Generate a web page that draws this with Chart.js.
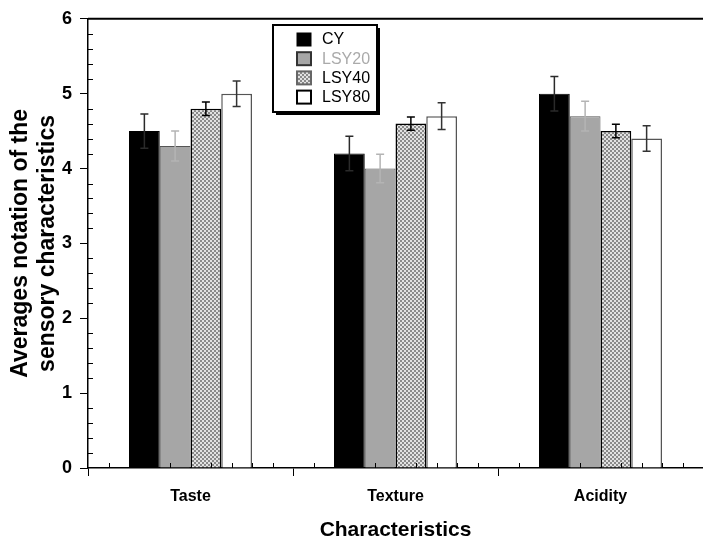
<!DOCTYPE html>
<html>
<head>
<meta charset="utf-8">
<script src="https://cdn.jsdelivr.net/npm/chart.js@4.4.1/dist/chart.umd.min.js"></script>
<style>
    body { margin: 0; background: #ffffff; }
</style>
</head>
<body>
<canvas id="chart" width="703" height="543"></canvas>
<script>
// Categories and series
const categories = ["Taste", "Texture", "Acidity"];
const seriesNames = ["CY", "LSY20", "LSY40", "LSY80"];

// Mean values
const cyValues = [4.5, 4.2, 5.0];
const lsy20Values = [4.3, 4.0, 4.7];
const lsy40Values = [4.8, 4.6, 4.5];
const lsy80Values = [5.0, 4.7, 4.4];

// Error bar half lengths
const cyErrors = [0.23, 0.23, 0.23];
const lsy20Errors = [0.2, 0.19, 0.2];
const lsy40Errors = [0.09, 0.09, 0.09];
const lsy80Errors = [0.17, 0.18, 0.17];

// Y axis ticks
const yMin = 0;
const yMax = 6;
const yStep = 1;
const yMinorStep = 0.2;
const xMinorPerCategory = 10;

const FONT = "'Liberation Sans', Arial, sans-serif";

// Checkered fill used for LSY40
function makeChecker() {
    const c = document.createElement("canvas");
    c.width = 4;
    c.height = 4;
    const g = c.getContext("2d");
    g.fillStyle = "#e2e2e2";
    g.fillRect(0, 0, 4, 4);
    g.fillStyle = "#8a8a8a";
    g.fillRect(0, 0, 2, 2);
    g.fillRect(2, 2, 2, 2);
    return g.createPattern(c, "repeat");
}
const checker = makeChecker();

const datasets = [
    { label: seriesNames[0], data: cyValues, errors: cyErrors, backgroundColor: "#000000", borderColor: "#000000", borderWidth: 1, errColor: "#2a2a2a", legendText: "#000000", legendBorder: "#000000" },
    { label: seriesNames[1], data: lsy20Values, errors: lsy20Errors, backgroundColor: "#a6a6a6", borderColor: "#555555", borderWidth: 1, errColor: "#b4b4b4", legendText: "#aaaaaa", legendBorder: "#333333" },
    { label: seriesNames[2], data: lsy40Values, errors: lsy40Errors, backgroundColor: checker, borderColor: "#000000", borderWidth: 1.5, errColor: "#000000", legendText: "#000000", legendBorder: "#666666" },
    { label: seriesNames[3], data: lsy80Values, errors: lsy80Errors, backgroundColor: "#ffffff", borderColor: "#555555", borderWidth: 1.5, errColor: "#333333", legendText: "#000000", legendBorder: "#000000" },
];

// Error bars, minor ticks, top frame line and the boxed legend
const extras = {
    id: "extras",
    afterDatasetsDraw(chart) {
        const ctx = chart.ctx;
        const y = chart.scales.y;
        ctx.save();
        chart.data.datasets.forEach((ds, i) => {
            const meta = chart.getDatasetMeta(i);
            ctx.strokeStyle = ds.errColor;
            ctx.lineWidth = 1.5;
            meta.data.forEach((bar, j) => {
                const v = ds.data[j];
                const e = ds.errors[j];
                const top = y.getPixelForValue(v + e);
                const bot = y.getPixelForValue(v - e);
                ctx.beginPath();
                ctx.moveTo(bar.x, top);
                ctx.lineTo(bar.x, bot);
                ctx.moveTo(bar.x - 4, top);
                ctx.lineTo(bar.x + 4, top);
                ctx.moveTo(bar.x - 4, bot);
                ctx.lineTo(bar.x + 4, bot);
                ctx.stroke();
            });
        });
        ctx.restore();
    },
    afterDraw(chart) {
        const ctx = chart.ctx;
        const y = chart.scales.y;
        const area = chart.chartArea;
        ctx.save();
        ctx.strokeStyle = "#000000";
        ctx.lineWidth = 1;
        ctx.beginPath();
        // y minor ticks, pointing into the plot
        for (let v = yMin; v < yMax; v += yMinorStep) {
            const r = Math.round(v * 10) / 10;
            if (Math.abs(r - Math.round(r)) < 1e-6) continue;
            const py = Math.round(y.getPixelForValue(r)) + 0.5;
            ctx.moveTo(area.left, py);
            ctx.lineTo(area.left + 5, py);
        }
        // x minor ticks, pointing into the plot
        const n = categories.length * xMinorPerCategory;
        const step = (area.right - area.left) / n;
        for (let k = 1; k < n; k++) {
            if (k % xMinorPerCategory === 0) continue;
            const px = Math.round(area.left + k * step) + 0.5;
            ctx.moveTo(px, area.bottom);
            ctx.lineTo(px, area.bottom - 5);
        }
        ctx.stroke();
        // top frame line
        ctx.lineWidth = 2;
        ctx.beginPath();
        ctx.moveTo(area.left, area.top);
        ctx.lineTo(chart.width, area.top);
        ctx.stroke();

        // legend box with shadow
        const bx = 273, by = 25, bw = 104, bh = 87;
        ctx.fillStyle = "#000000";
        ctx.fillRect(bx + 3, by + 3, bw, bh);
        ctx.fillStyle = "#ffffff";
        ctx.fillRect(bx, by, bw, bh);
        ctx.lineWidth = 2;
        ctx.strokeStyle = "#000000";
        ctx.strokeRect(bx, by, bw, bh);
        ctx.font = "16px " + FONT;
        ctx.textBaseline = "middle";
        ctx.textAlign = "left";
        chart.data.datasets.forEach((ds, i) => {
            const sy = 33 + i * 19.2;
            ctx.fillStyle = ds.backgroundColor;
            ctx.fillRect(297, sy, 14, 13);
            ctx.lineWidth = i === 0 ? 1 : 2;
            ctx.strokeStyle = ds.legendBorder;
            ctx.strokeRect(297, sy, 14, 13);
            ctx.fillStyle = ds.legendText;
            ctx.fillText(ds.label, 322, sy + 7);
        });
        ctx.restore();
    }
};

new Chart(document.getElementById("chart"), {
    type: "bar",
    data: {
        labels: categories,
        datasets: datasets,
    },
    plugins: [extras],
    options: {
        responsive: false,
        devicePixelRatio: 1,
        animation: false,
        layout: { padding: { top: 18, left: 0, right: 0, bottom: 0 } },
        datasets: {
            bar: { categoryPercentage: 0.6, barPercentage: 1.0, borderSkipped: "start" }
        },
        plugins: {
            legend: { display: false },
            tooltip: { enabled: false },
        },
        scales: {
            x: {
                offset: true,
                afterFit: (scale) => { scale.height = 75; },
                grid: { offset: true, drawOnChartArea: false, drawTicks: true, tickLength: 8, tickColor: "#000000", tickWidth: 1 },
                border: { display: true, color: "#000000", width: 1.5 },
                ticks: { color: "#000000", padding: 11, font: { family: FONT, size: 16, weight: "bold" } },
                title: {
                    display: true,
                    text: "Characteristics",
                    color: "#000000",
                    padding: { top: 0, bottom: 0 },
                    font: { family: FONT, size: 21, weight: "bold", lineHeight: 1.2 },
                },
            },
            y: {
                min: yMin,
                max: yMax,
                afterFit: (scale) => { scale.width = 88; },
                grid: { drawOnChartArea: false, drawTicks: true, tickLength: 8, tickColor: "#000000", tickWidth: 1 },
                border: { display: true, color: "#000000", width: 1.5 },
                ticks: { stepSize: yStep, color: "#000000", padding: 8, font: { family: FONT, size: 18, weight: "bold" } },
                title: {
                    display: true,
                    text: ["Averages notation of the", "sensory characteristics"],
                    color: "#000000",
                    padding: { top: 7, bottom: 0 },
                    font: { family: FONT, size: 23, weight: "bold", lineHeight: 1.17 },
                },
            },
        },
    },
});
</script>
</body>
</html>
